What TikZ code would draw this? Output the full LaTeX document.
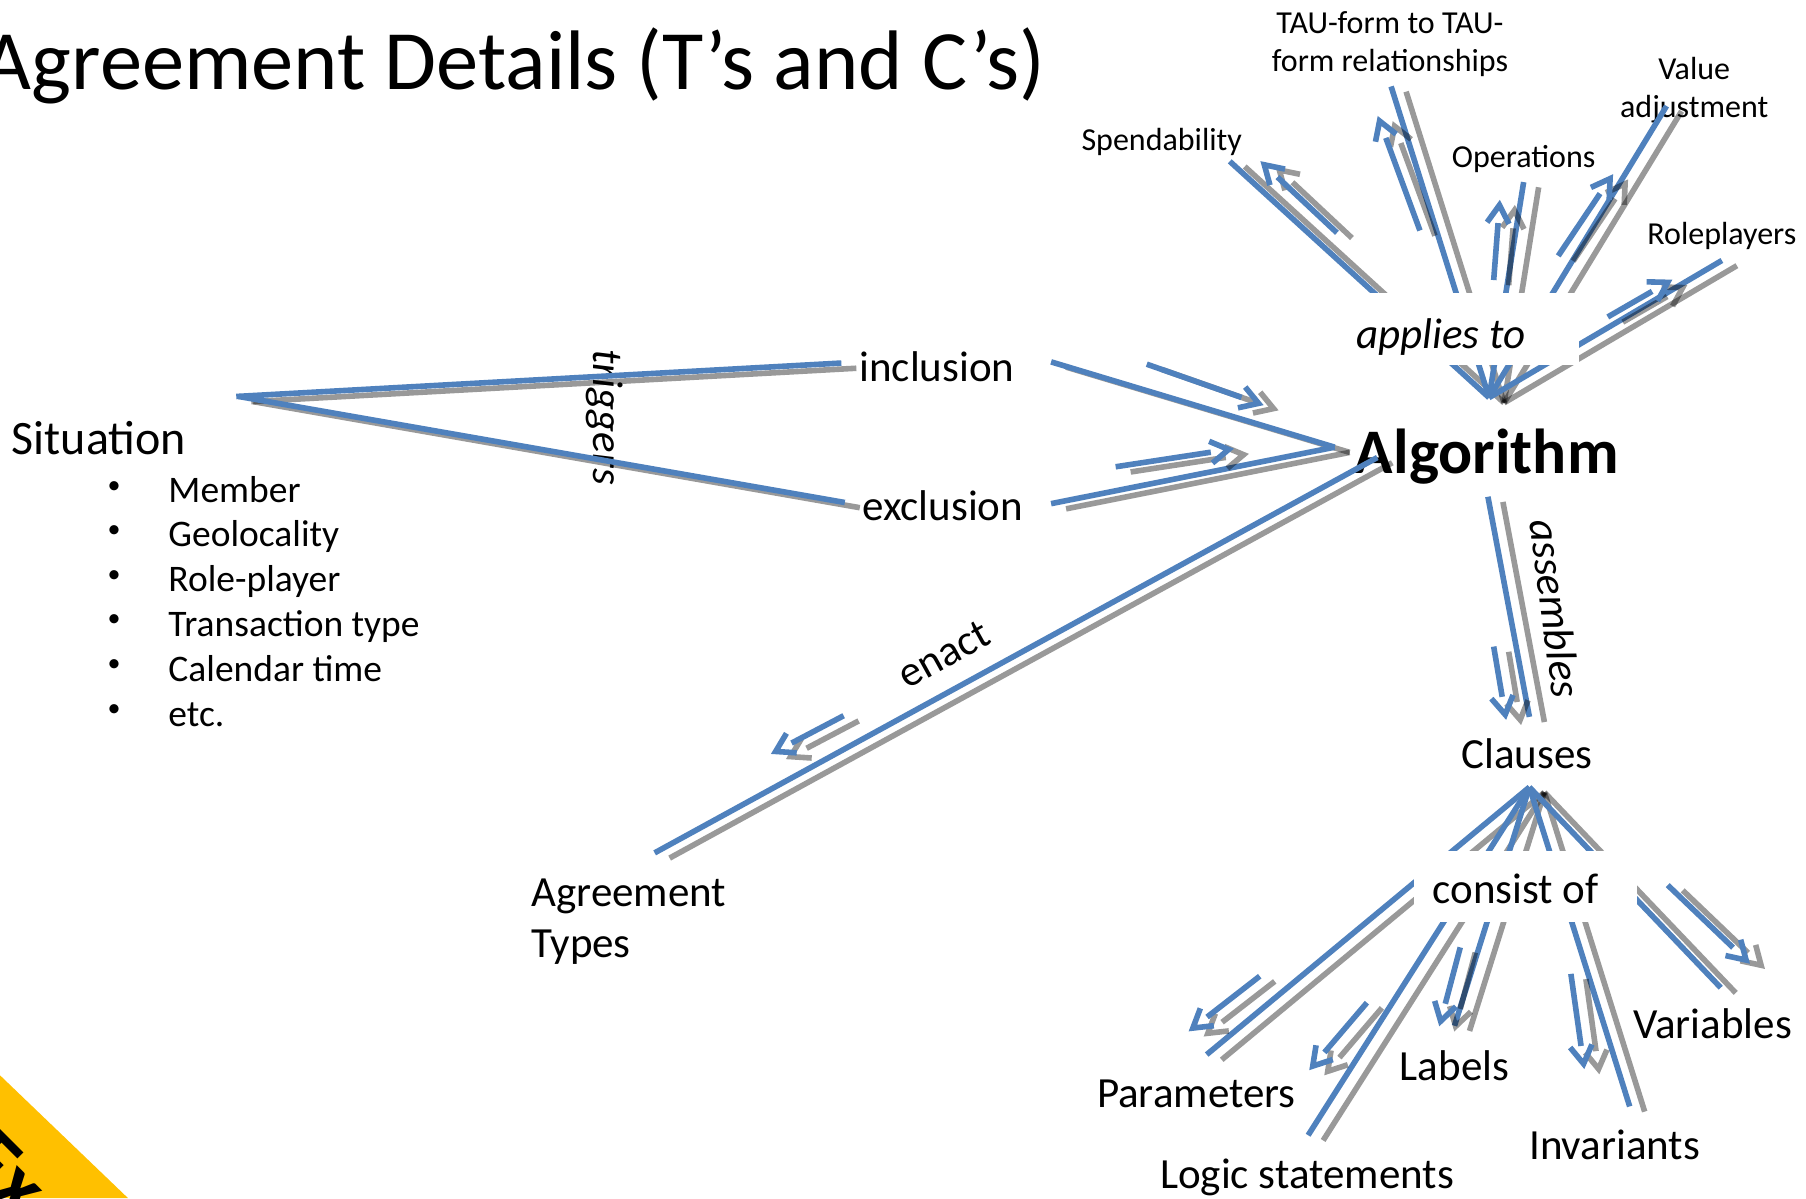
\documentclass[tikz,border=0pt]{standalone}
\usepackage{fontspec}
\setmainfont{Carlito}
\usetikzlibrary{calc}
\definecolor{lineblue}{HTML}{4F81BD}
\definecolor{bannergold}{HTML}{FFC000}
\tikzset{
  ln/.style={line width=5.6pt},
  bluln/.style={ln,draw=lineblue},
  shdln/.style={ln,draw=black,draw opacity=.4},
  lbl/.style={inner sep=0pt,font=\fontsize{43}{51}\selectfont},
  ital/.style={lbl,font=\fontsize{43}{51}\selectfont\itshape},
  tiny/.style={inner sep=0pt,align=center,font=\fontsize{32}{38}\selectfont},
  bul/.style={inner sep=0pt,anchor=base west,font=\fontsize{37.5}{44}\selectfont},
  dot/.style={inner sep=0pt,anchor=base,font=\fontsize{26}{30}\selectfont},
  wbox/.style={fill=white,draw=none,inner sep=0pt,minimum width=#1*1.1525pt,minimum height=62*1.1525pt}
}
\newcommand{\conn}[2]{%
  \begin{scope}[transform canvas={xshift=15pt,yshift=-5.2pt}]\draw[shdln] (#1)--(#2);\end{scope}
  \draw[bluln] (#1)--(#2);}
\newcommand{\arrowpath}[3]{%
  \draw[#3,line join=miter] (#1)--($(#2)!18pt!(#1)$)
    ($(#2)!18pt!(#1)!11pt!90:(#2)$)--(#2)--($(#2)!18pt!(#1)!11pt!-90:(#2)$);}
\newcommand{\flow}[2]{%
  \begin{scope}[transform canvas={xshift=15pt,yshift=-5.2pt}]\arrowpath{#1}{#2}{shdln}\end{scope}
  \arrowpath{#1}{#2}{bluln}}
\begin{document}
\begin{tikzpicture}[x=1.1525pt,y=-1.1525pt]
\useasboundingbox (0,0) rectangle (1567,1039.5);
\clip (0,0) rectangle (1567,1039.5);
\fill[white] (0,0) rectangle (1567,1039.5);
% banner
\fill[bannergold] (0,933) -- (111,1039.5) -- (0,1039.5) -- cycle;
\node[rotate=-45,inner sep=0pt,anchor=base west,font=\fontsize{84}{90}\selectfont\bfseries] (banner) at (-36,1010) {Ex};
% texts
\node[inner sep=0pt,anchor=base west,font=\fontsize{84.5}{96}\selectfont] (title) at (-15,78) {Agreement Details (T’s and C’s)};
\node[inner sep=0pt,anchor=base west,font=\fontsize{48}{56}\selectfont] (situation) at (10,394) {Situation};
\foreach \yy/\tt in {436/Member,474/Geolocality,513/Role-player,552/Transaction type,591/Calendar time,630/etc.}{
  \node[dot] at (99,\yy-8) {•};
  \node[bul] at (146,\yy) {\tt};
}
\node[lbl] (inclusion) at (813,318) {inclusion};
\node[lbl] (exclusion) at (818,439) {exclusion};
\node[lbl,align=left,anchor=north west] (types) at (461,762) {Agreement\\Types};
\node[inner sep=0pt,font=\fontsize{63.5}{70}\selectfont\bfseries] (algorithm) at (1290,396) {Algorithm};
\node[lbl] (clauses) at (1325,654) {Clauses};
\node[tiny] (spend) at (1008,123) {Spendability};
\node[tiny] (tau) at (1206,38) {TAU-form to TAU-\\form relationships};
\node[tiny] (ops) at (1322,138) {Operations};
\node[tiny] (value) at (1470,78) {Value\\adjustment};
\node[tiny] (role) at (1494,205) {Roleplayers};
\node[lbl] (param) at (1038,949) {Parameters};
\node[lbl] (logic) at (1134,1022) {Logic statements};
\node[lbl] (labels) at (1262,925) {Labels};
\node[lbl] (invar) at (1401,993) {Invariants};
\node[lbl] (vars) at (1486,888) {Variables};
\node[ital,rotate=-90] (triggers) at (525,362) {triggers};
\node[lbl,rotate=29] (enact) at (819,568) {enact};
\node[ital,rotate=-82.5] (assembles) at (1350,528) {assembles};
% line ends
\coordinate (s1) at (205,344);
\coordinate (s2) at (207,344);
\coordinate (i1) at (730,315);
\coordinate (e1) at (733,436);
\coordinate (i2) at (912,314);
\coordinate (e2) at (912,437);
\coordinate (a1) at (1158,388);
\coordinate (t1) at (568,740);
\coordinate (a2) at (1195,397);
\coordinate (a3) at (1291,431);
\coordinate (c1) at (1327,622);
\coordinate (apexa) at (1292,345);
\coordinate (fspend) at (1067,140);
\coordinate (ftau) at (1207,75);
\coordinate (fops) at (1322,158);
\coordinate (fval) at (1446,92);
\coordinate (frole) at (1494,226);
\coordinate (apexc) at (1327,683);
\coordinate (fpar) at (1047,915);
\coordinate (flog) at (1135,985);
\coordinate (flab) at (1262,890);
\coordinate (finv) at (1414,960);
\coordinate (fvar) at (1493,857);
% connectors
\conn{s1}{i1}
\conn{s2}{e1}
\conn{i2}{a1}
\conn{e2}{a1}
\conn{t1}{a2}
\conn{a3}{c1}
\conn{apexa}{fspend}
\conn{apexa}{ftau}
\conn{apexa}{fops}
\conn{apexa}{fval}
\conn{apexa}{frole}
\conn{apexc}{fpar}
\conn{apexc}{flog}
\conn{apexc}{flab}
\conn{apexc}{finv}
\conn{apexc}{fvar}
% small direction arrows
\foreach \na/\xa/\ya/\xb/\yb in {
 sp/1160/202/1097/143, ta/1232/200/1197/105, op/1296/243/1301/178, va/1352/222/1397/155,
 ro/1395/275/1447/245, in/995/316/1092/350, ex/968/405/1066/390, en/732/621/673/652,
 as/1296/561/1306/620, pa/1093/847/1035/892, lo/1186/870/1139/925, la/1267/822/1250/886,
 iv/1363/845/1374/923, vr/1447/768/1515/833}{
  \coordinate (t\na) at (\xa,\ya);
  \coordinate (h\na) at (\xb,\yb);
  \flow{t\na}{h\na}
}
% white plates
\node[wbox=200] (plate1) at (1270,285.5) {};
\node[wbox=193] (plate2) at (1323.5,769) {};
\node[ital] (applies) at (1250,292) {applies to};
\node[lbl] (consist) at (1315,771) {consist of};
\end{tikzpicture}
\end{document}
